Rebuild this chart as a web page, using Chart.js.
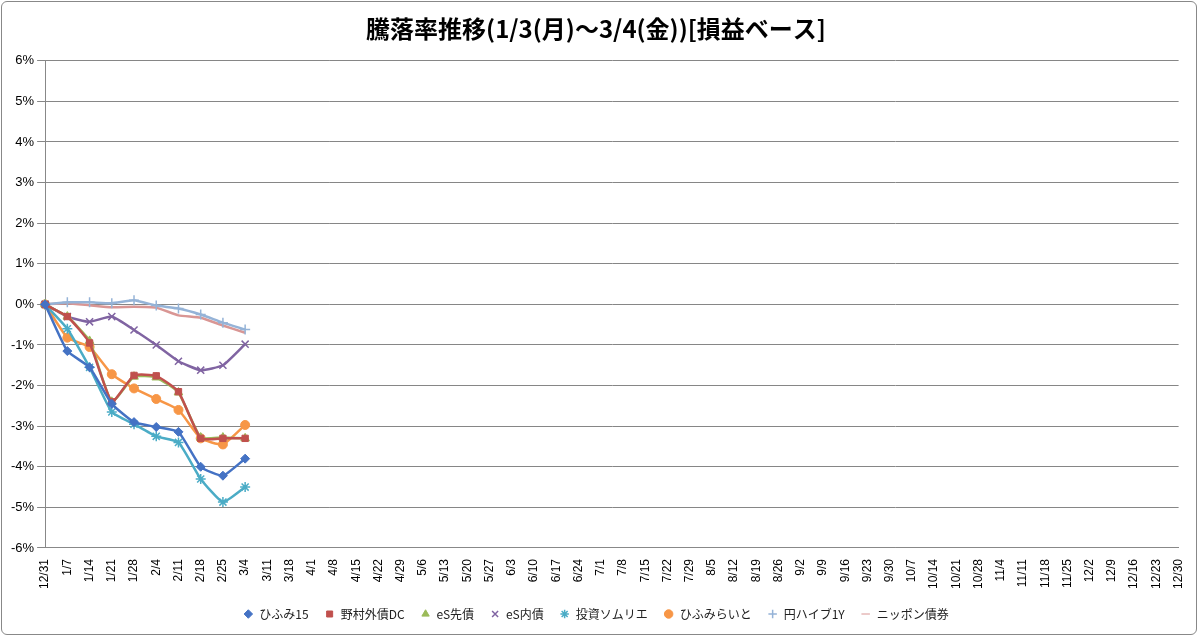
<!DOCTYPE html>
<html><head><meta charset="utf-8">
<script src="https://cdn.jsdelivr.net/npm/chart.js@4"></script>
<style>
html,body{margin:0;padding:0;background:#fff;}
#wrap{position:absolute;left:1px;top:1px;width:1196px;height:634px;border:1px solid #888;border-radius:6px;box-sizing:border-box;}
canvas{display:block;}
</style></head><body>
<div id="wrap"><canvas id="c" width="1194" height="632"></canvas></div>
<script>
const labels=["12/31","1/7","1/14","1/21","1/28","2/4","2/11","2/18","2/25","3/4","3/11","3/18","4/1","4/8","4/15","4/22","4/29","5/6","5/13","5/20","5/27","6/3","6/10","6/17","6/24","7/1","7/8","7/15","7/22","7/29","8/5","8/12","8/19","8/26","9/2","9/9","9/16","9/23","9/30","10/7","10/14","10/21","10/28","11/4","11/11","11/18","11/25","12/2","12/9","12/16","12/23","12/30"];
const hifumi15=[0,-1.15,-1.55,-2.45,-2.9,-3.02,-3.14,-4.0,-4.22,-3.8];
const nomura=[0,-0.3,-0.95,-2.4,-1.75,-1.76,-2.15,-3.3,-3.3,-3.3];
const esSenSai=[0,-0.3,-0.9,-2.4,-1.78,-1.8,-2.17,-3.28,-3.28,-3.3];
const esNaiSai=[0,-0.3,-0.43,-0.3,-0.63,-1.0,-1.4,-1.62,-1.5,-0.98];
const sommelier=[0,-0.6,-1.55,-2.65,-2.95,-3.25,-3.4,-4.3,-4.87,-4.5];
const hifumiLight=[0,-0.82,-1.05,-1.72,-2.07,-2.33,-2.6,-3.3,-3.45,-2.97];
const yenHybrid=[0,0.05,0.05,0.03,0.1,-0.03,-0.1,-0.25,-0.45,-0.62];
const nipponBond=[0,0.03,-0.02,-0.07,-0.06,-0.08,-0.27,-0.33,-0.52,-0.7];
function ds(label,data,color,ps,r){return{label,data,borderColor:color,backgroundColor:color,pointStyle:ps,pointRadius:r,pointBorderWidth:ps==='cross'||ps==='crossRot'||ps==='star'?1.5:1,borderWidth:2.5,tension:0.15};}
new Chart(document.getElementById('c'),{type:'line',
data:{labels,datasets:[
ds('ひふみ15',hifumi15,'#4472C4','rectRot',4.5),
ds('野村外債DC',nomura,'#C0504D','rect',4.5),
ds('eS先債',esSenSai,'#9BBB59','triangle',5),
ds('eS内債',esNaiSai,'#8064A2','crossRot',5),
ds('投資ソムリエ',sommelier,'#4BACC6','star',5),
ds('ひふみらいと',hifumiLight,'#F79646','circle',4.5),
ds('円ハイブ1Y',yenHybrid,'#95B3D7','cross',5),
ds('ニッポン債券',nipponBond,'#D99694','line',0)
]},
options:{responsive:false,animation:false,devicePixelRatio:1,
layout:{padding:{left:6,right:12,top:4,bottom:4}},
plugins:{title:{display:true,text:'騰落率推移(1/3(月)～3/4(金))[損益ベース]',color:'#000',font:{family:'Noto Sans CJK JP',size:24,weight:'bold'},padding:{top:8,bottom:18}},
legend:{position:'bottom',labels:{usePointStyle:true,boxWidth:10,boxHeight:6,color:'#222',font:{family:'Noto Sans CJK JP',size:12},padding:16}},tooltip:{enabled:false}},
scales:{
x:{grid:{display:false},border:{color:'#888'},ticks:{color:'#000',font:{family:'Liberation Sans',size:12},maxRotation:90,minRotation:90,autoSkip:false}},
y:{min:-6,max:6,grid:{color:'#868686'},border:{color:'#888'},ticks:{stepSize:1,color:'#000',font:{family:'Liberation Sans',size:13},callback:v=>v+'%'}}
}}});
</script>
</body></html>
